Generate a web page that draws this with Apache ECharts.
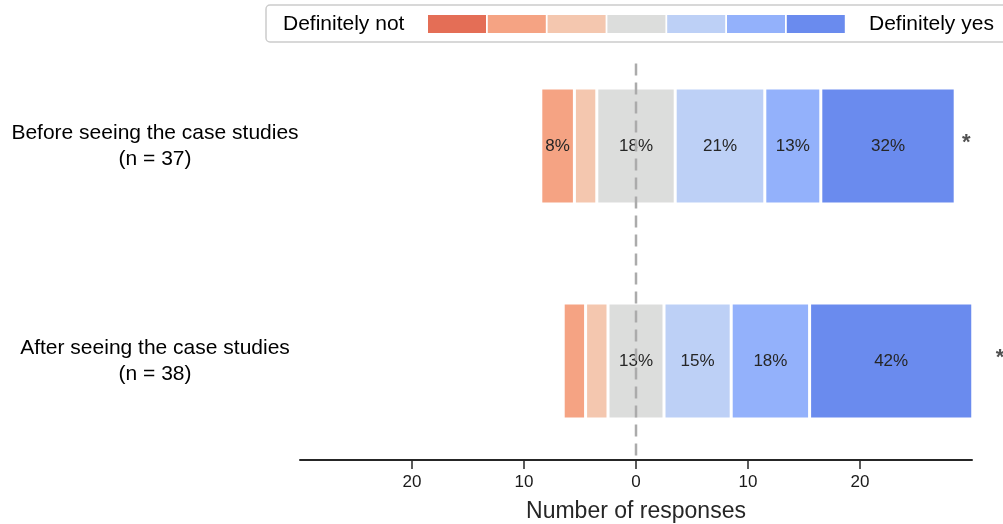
<!DOCTYPE html>
<html>
<head>
<meta charset="utf-8">
<script src="https://cdn.jsdelivr.net/npm/echarts@6/dist/echarts.min.js"></script>
<style>
  html, body { margin: 0; padding: 0; background: #fff; }
  #chart { width: 1003px; height: 524px; }
</style>
</head>
<body>
<div id="chart"></div>
<script>
// Response counts on a 7-point scale, one entry per group
const categories = ['Before seeing the case studies\n(n = 37)', 'After seeing the case studies\n(n = 38)'];
const respondents = [37, 38];
const levelNames = ['Definitely not', '2', '3', '4', '5', '6', 'Definitely yes'];
const definitelyNot = [0, 0];
const level2 = [3, 2];
const level3 = [2, 2];
const neutral = [7, 5];
const level5 = [8, 6];
const level6 = [5, 7];
const definitelyYes = [12, 16];
const significance = ['*', '*'];
const tickValues = [-20, -10, 0, 10, 20];
const axisRange = [-30, 30];
const levelColors = ['#e46e56', '#f5a383', '#f4c7af', '#dcdddc', '#bdd0f6', '#93b1fb', '#6a8bee'];

const levels = [definitelyNot, level2, level3, neutral, level5, level6, definitelyYes];
const font = '"Liberation Sans", Arial, Helvetica, sans-serif';

// Plot area of the main grid
const plotLeft = 300, plotRight = 31, plotTop = 38.5, plotBottom = 55.5;
// Second grid spans only the ticked range so its own axis draws the tick marks
const plotWidth = 1003 - plotLeft - plotRight;
const tickSpan = tickValues[tickValues.length - 1] - tickValues[0];
const tickGridLeft = plotLeft + plotWidth * (tickValues[0] - axisRange[0]) / (axisRange[1] - axisRange[0]);
const tickGridRight = plotRight + plotWidth * (axisRange[1] - tickValues[tickValues.length - 1]) / (axisRange[1] - axisRange[0]);

// Centre the neutral block on zero: shift each row left by the negative side
const leftShift = categories.map((_, i) => -(definitelyNot[i] + level2[i] + level3[i] + neutral[i] / 2));
const rightEnd = categories.map((_, i) => neutral[i] / 2 + level5[i] + level6[i] + definitelyYes[i]);

const chart = echarts.init(document.getElementById('chart'), null, { renderer: 'canvas' });

const series = [{
  name: 'shift',
  type: 'bar',
  stack: 'likert',
  stackStrategy: 'all',
  data: leftShift,
  barWidth: 116,
  silent: true,
  itemStyle: { color: 'rgba(0,0,0,0)', borderWidth: 0 },
  label: { show: false }
}];

levels.forEach((vals, k) => {
  series.push({
    name: levelNames[k],
    type: 'bar',
    stack: 'likert',
    stackStrategy: 'all',
    data: vals,
    barWidth: 116,
    itemStyle: { color: levelColors[k], borderColor: '#ffffff', borderWidth: 1.5 },
    label: {
      show: true,
      position: 'inside',
      fontFamily: font,
      fontSize: 17,
      color: '#262626',
      formatter: p => {
        const pct = Math.floor(100 * p.value / respondents[p.dataIndex]);
        return pct >= 8 ? pct + '%' : '';
      }
    }
  });
});

// Significance markers just past each bar's right end
series.push({
  type: 'scatter',
  data: categories.map((c, i) => [rightEnd[i] + 1, i]),
  symbol: 'circle',
  symbolSize: 1,
  clip: false,
  silent: true,
  itemStyle: { color: 'rgba(0,0,0,0)' },
  label: {
    show: true,
    position: 'inside',
    offset: [0, -3],
    formatter: p => significance[p.dataIndex],
    fontFamily: font,
    fontSize: 22,
    fontWeight: 'bold',
    color: '#262626'
  },
  z: 5
});

// Dashed reference line at zero
series.push({
  type: 'custom',
  data: [[0, 0]],
  clip: false,
  silent: true,
  z: 10,
  renderItem: (params, api) => {
    const x = Math.round(api.coord([api.value(0), 0])[0]);
    const cs = params.coordSys;
    return {
      type: 'line',
      shape: { x1: x, y1: cs.y + 25, x2: x, y2: cs.y + cs.height - 8.5 },
      style: { stroke: '#ababab', lineWidth: 2.5, lineDash: [12, 7] }
    };
  }
});

// Empty series that anchors the tick-mark grid
series.push({
  type: 'line',
  xAxisIndex: 1,
  yAxisIndex: 1,
  data: [],
  silent: true
});

// Legend strip: label, seven swatches, label
const legendItems = [
  { type: 'rect', shape: { x: 266, y: 5, width: 780, height: 37, r: 4 },
    style: { fill: '#ffffff', stroke: '#cccccc', lineWidth: 1.5 } },
  { type: 'text', x: 283, y: 24,
    style: { text: levelNames[0], font: '21px ' + font, fill: '#000', textVerticalAlign: 'middle' } },
  { type: 'text', x: 869, y: 24,
    style: { text: levelNames[6], font: '21px ' + font, fill: '#000', textVerticalAlign: 'middle' } }
];
levelColors.forEach((c, k) => {
  legendItems.push({ type: 'rect', shape: { x: 428 + k * 59.8, y: 15, width: 58, height: 18 },
    style: { fill: c } });
});

chart.setOption({
  animation: false,
  backgroundColor: '#ffffff',
  grid: [
    { left: plotLeft, right: plotRight, top: plotTop, bottom: plotBottom, containLabel: false, outerBoundsMode: 'none' },
    { left: tickGridLeft, right: tickGridRight, top: plotTop, bottom: plotBottom, containLabel: false, outerBoundsMode: 'none' }
  ],
  xAxis: [{
    type: 'value',
    gridIndex: 0,
    min: axisRange[0],
    max: axisRange[1],
    interval: 10,
    offset: -8.5,
    name: 'Number of responses',
    nameLocation: 'middle',
    nameGap: 40,
    nameTextStyle: { fontFamily: font, fontSize: 23, color: '#262626' },
    axisLine: { show: true, lineStyle: { color: '#262626', width: 2 } },
    axisTick: { show: false },
    axisLabel: {
      customValues: tickValues,
      formatter: v => String(Math.abs(v)),
      fontFamily: font, fontSize: 17, color: '#1a1a1a', margin: 14
    },
    splitLine: { show: false }
  }, {
    type: 'value',
    gridIndex: 1,
    min: tickValues[0],
    max: tickValues[tickValues.length - 1],
    interval: tickSpan / (tickValues.length - 1),
    offset: -8.5,
    axisLine: { show: false },
    axisTick: { show: true, inside: false, length: 9, lineStyle: { color: '#262626', width: 1.5 } },
    axisLabel: { show: false },
    splitLine: { show: false }
  }],
  yAxis: [{
    type: 'category',
    gridIndex: 0,
    data: categories,
    inverse: true,
    axisLine: { show: false },
    axisTick: { show: false },
    axisLabel: {
      margin: 145,
      align: 'center',
      fontFamily: font, fontSize: 21, lineHeight: 26, color: '#000'
    }
  }, {
    type: 'value',
    gridIndex: 1,
    show: false
  }],
  graphic: [{ type: 'group', silent: true, z: 100, children: legendItems }],
  series: series
});
</script>
</body>
</html>
